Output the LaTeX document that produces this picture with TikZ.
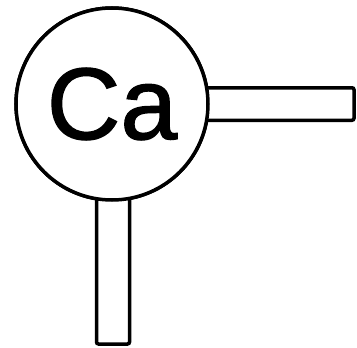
\documentclass[tikz,border=0pt]{standalone}
\usepackage{fontspec}
\setmainfont{Liberation Sans}
\usetikzlibrary{positioning}

\tikzset{
  atom/.style={circle, draw, line width=3.5pt, fill=white, outer sep=0pt,
    inner sep=0pt, minimum size=192pt, font=\fontsize{102}{102}\selectfont},
  bondbar/.style={draw, line width=3.5pt, rounded corners=2pt, fill=white,
    outer sep=0pt, inner sep=0pt},
  fillet/.style={fill=black, draw=black, line width=1pt},
}
% slightly heavier letters
\newcommand{\heavytext}[1]{\special{pdf:literal direct 1.3 w 2 Tr}#1\special{pdf:literal direct 0 Tr}}

\begin{document}
\begin{tikzpicture}[x=1pt,y=-1pt]
    \useasboundingbox (0,0) rectangle (357,348);
    \coordinate (c0) at (112,104);
    \node[atom] (ca) at (c0) {};
    % bars go under the atom
    \node[bondbar, minimum width=160pt, minimum height=32.5pt, right=-14pt of ca] (bondE) {};
    \node[bondbar, minimum width=33pt, minimum height=158pt, below=-14pt of ca, xshift=1pt] (bondS) {};
    \node[atom] (ca) at (c0) {\raisebox{-1pt}{\heavytext{Ca}}};
    % small flares where the bars meet
    \filldraw[fillet] (ca.13) .. controls (206.5,87.7) .. (211.5,87.7) -- (206.5,87.7) -- cycle;
    \filldraw[fillet] (ca.-13) .. controls (206.5,120.2) .. (211.5,120.2) -- (206.5,120.2) -- cycle;
    \filldraw[fillet] (ca.257) .. controls (96.5,198.8) .. (96.5,204) -- (96.5,198.8) -- cycle;
    \filldraw[fillet] (ca.284) .. controls (129.5,198.3) .. (129.5,204) -- (129.5,198.3) -- cycle;
\end{tikzpicture}
\end{document}
